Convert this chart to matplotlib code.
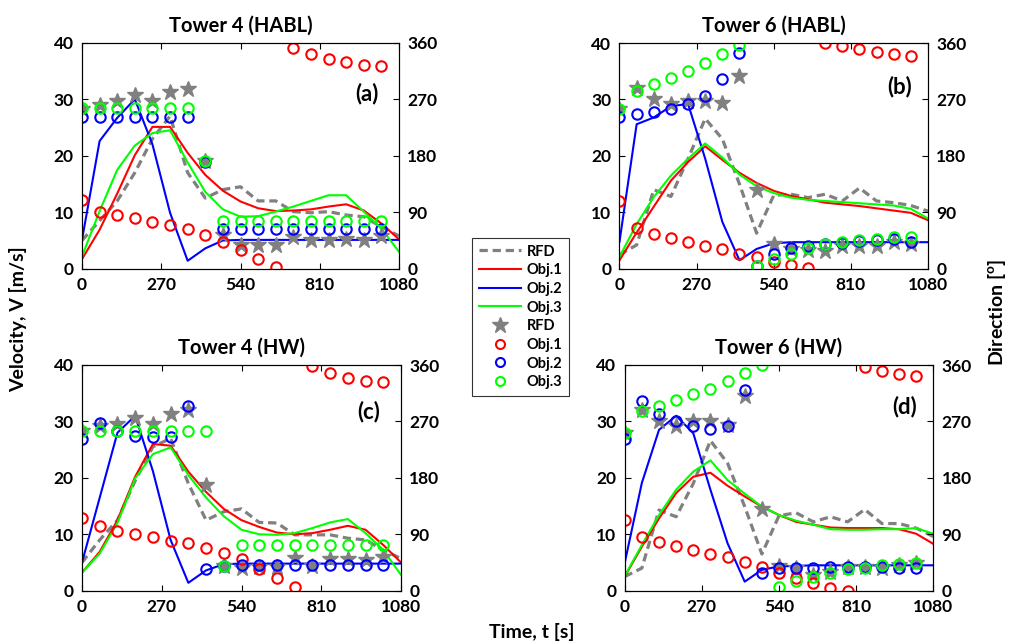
"""Velocity and direction time histories for Tower 4 / Tower 6 (HABL and HW)."""

import matplotlib

matplotlib.use("Agg")
import matplotlib.pyplot as plt
from matplotlib.lines import Line2D

plt.rcParams["font.family"] = ["Lato", "DejaVu Sans"]
plt.rcParams["font.weight"] = "bold"
plt.rcParams["mathtext.fontset"] = "custom"
plt.rcParams["mathtext.rm"] = "Lato:bold"
plt.rcParams["mathtext.bf"] = "Lato:bold"

# time grids (s)
T_LINE = [0, 60, 120, 180, 240, 300, 360, 420, 480, 540, 600, 660, 720, 780, 840, 900, 960, 1020, 1080]
T_MARK = [0, 60, 120, 180, 240, 300, 360, 420, 480, 540, 600, 660, 720, 780, 840, 900, 960, 1020]

# ---- Tower 4 (HABL): velocity (m/s) ----
rfd_a = [5.0, 8.5, 12.0, 17.0, 23.0, 27.0, 17.0, 12.5, 14.0, 14.5, 12.0, 12.0, 10.1, 9.9, 10.1, 9.5, 9.2, 7.4, 5.8]
obj1_a = [1.7, 6.9, 13.3, 20.1, 25.1, 25.1, 20.5, 16.6, 13.8, 11.9, 10.7, 10.2, 10.3, 10.5, 11.0, 11.4, 10.3, 8.0, 5.2]
obj2_a = [5.1, 22.6, 26.7, 30.0, 22.0, 9.9, 1.4, 3.6, 5.0, 5.1, 5.1, 5.1, 5.1, 5.1, 5.1, 5.1, 5.1, 5.1, 5.1]
obj3_a = [2.2, 10.2, 17.5, 21.8, 24.0, 24.5, 18.8, 13.6, 10.5, 9.2, 9.3, 10.1, 11.0, 12.0, 13.0, 13.0, 10.1, 7.1, 3.0]
# direction (deg)
rfd_dir_a = [255, 261, 267, 276, 267, 282, 287, 171, 54, 38, 38, 38, 51, 45, 45, 47, 45, 52]
obj1_dir_a = [109, 91, 85, 80, 75, 70, 63, 54, 43, 30, 15, 2, 352, 342, 334, 329, 325, 323]
obj2_dir_a = [242, 242, 242, 242, 242, 242, 242, 170, 64, 64, 64, 64, 64, 64, 64, 64, 64, 64]
obj3_dir_a = [256, 256, 256, 256, 256, 256, 256, 171, 76, 76, 76, 76, 76, 76, 76, 76, 76, 76]

# ---- Tower 6 (HABL) ----
rfd_b = [2.5, 4.2, 14.0, 12.8, 19.5, 26.6, 23.0, 15.0, 6.3, 13.0, 13.2, 12.6, 13.2, 12.0, 14.3, 12.0, 11.7, 11.2, 10.2]
obj1_b = [1.5, 6.4, 11.0, 15.6, 18.9, 21.7, 19.3, 17.0, 15.2, 13.8, 12.9, 12.3, 11.7, 11.4, 11.1, 10.7, 10.3, 9.9, 8.6]
obj2_b = [4.8, 25.6, 26.8, 28.8, 29.2, 19.5, 8.3, 1.5, 3.5, 4.5, 4.7, 4.7, 4.7, 4.7, 4.7, 4.7, 4.7, 4.7, 4.7]
obj3_b = [2.1, 7.9, 12.7, 16.5, 19.5, 22.2, 19.7, 16.7, 14.6, 13.4, 12.6, 12.2, 12.0, 11.8, 11.6, 11.4, 11.2, 10.6, 8.9]
rfd_dir_b = [255, 289, 270, 263, 268, 268, 265, 307, 126, 39, 31, 30, 28, 36, 36, 36, 42, 39]
obj1_dir_b = [108, 65, 56, 49, 43, 36, 31, 23, 18, 11, 6, 1, 360, 356, 351, 346, 343, 340]
obj2_dir_b = [242, 246, 250, 255, 262, 276, 303, 344, 5, 24, 33, 36, 39, 41, 44, 46, 48, 42]
obj3_dir_b = [255, 284, 295, 304, 316, 328, 343, 357, 5, 15, 24, 33, 39, 42, 45, 48, 51, 51]

# ---- Tower 4 (HW) ----
rfd_c = [5.0, 9.0, 12.5, 19.5, 25.5, 27.0, 19.0, 12.5, 14.0, 14.5, 12.1, 12.0, 9.9, 9.9, 9.9, 9.3, 9.0, 7.2, 5.7]
obj1_c = [3.2, 6.9, 12.5, 20.2, 26.0, 25.7, 21.1, 17.5, 14.5, 12.5, 11.3, 10.3, 10.0, 10.2, 10.8, 11.5, 10.8, 8.1, 5.0]
obj2_c = [5.0, 16.5, 28.0, 31.0, 21.2, 9.0, 1.4, 3.6, 4.7, 4.8, 4.8, 4.8, 4.8, 4.8, 4.8, 4.8, 4.8, 4.8, 4.8]
obj3_c = [3.2, 6.6, 12.0, 19.9, 24.2, 25.4, 20.5, 16.5, 13.2, 10.8, 10.0, 9.9, 10.2, 11.1, 12.1, 12.7, 10.2, 7.2, 2.8]
rfd_dir_c = [254, 262, 266, 275, 266, 282, 288, 169, 39, 36, 38, 38, 52, 39, 50, 50, 49, 54]
obj1_dir_c = [116, 103, 95, 90, 85, 80, 76, 68, 60, 50, 34, 21, 6, 358, 347, 339, 335, 333]
obj2_dir_c = [242, 268, 254, 247, 245, 245, 295, 35, 39, 41, 41, 41, 41, 41, 41, 41, 41, 41]
obj3_dir_c = [254, 254, 254, 254, 254, 254, 254, 254, 39, 73, 73, 73, 73, 73, 73, 73, 73, 73]

# ---- Tower 6 (HW) ----
rfd_d = [2.5, 4.0, 14.3, 13.1, 19.0, 26.6, 22.6, 14.9, 6.5, 13.3, 13.8, 12.2, 13.1, 12.2, 14.4, 11.9, 11.9, 11.1, 9.6]
obj1_d = [2.5, 7.8, 12.8, 17.3, 20.2, 20.9, 18.6, 16.7, 14.9, 13.4, 12.2, 11.7, 11.2, 11.1, 11.1, 11.1, 10.9, 10.1, 8.3]
obj2_d = [4.9, 19.1, 28.5, 31.0, 27.9, 17.9, 8.4, 1.6, 3.7, 4.3, 4.4, 4.5, 4.5, 4.5, 4.5, 4.5, 4.5, 4.5, 4.5]
obj3_d = [2.6, 8.1, 13.4, 17.9, 21.1, 23.1, 19.6, 17.2, 14.9, 13.4, 12.4, 11.7, 10.9, 10.8, 10.8, 10.9, 10.9, 11.1, 10.1]
rfd_dir_d = [252, 289, 271, 262, 270, 271, 265, 310, 130, 39, 36, 25, 30, 38, 38, 36, 41, 44]
obj1_dir_d = [113, 86, 78, 71, 65, 59, 53, 46, 38, 29, 21, 13, 5, 0, 357, 350, 346, 343]
obj2_dir_d = [242, 302, 282, 271, 262, 258, 262, 320, 29, 36, 37, 37, 38, 38, 38, 38, 37, 36]
obj3_dir_d = [252, 286, 294, 304, 313, 322, 335, 348, 360, 6, 15, 22, 29, 34, 37, 41, 43, 44]

TITLES = ["Tower 4 (HABL)", "Tower 6 (HABL)", "Tower 4 (HW)", "Tower 6 (HW)"]
LETTERS = ["(a)", "(b)", "(c)", "(d)"]

RED, BLUE, GREEN, GRAY = "#FF0000", "#0000FF", "#00FF00", "#808080"
W, H = 1012, 644


def px_box(left, right, top, bottom):
    return [left / W, 1 - bottom / H, (right - left) / W, (bottom - top) / H]


AX_BOXES = [
    px_box(82, 399, 42.7, 268.7),
    px_box(619.5, 928, 43, 268.7),
    px_box(82, 401, 365, 590.7),
    px_box(624.7, 933.3, 365, 590.7),
]
LETTER_POS = [(0.90, 0.775), (0.909, 0.807), (0.898, 0.794), (0.908, 0.816)]

panels = [
    (rfd_a, obj1_a, obj2_a, obj3_a, rfd_dir_a, obj1_dir_a, obj2_dir_a, obj3_dir_a),
    (rfd_b, obj1_b, obj2_b, obj3_b, rfd_dir_b, obj1_dir_b, obj2_dir_b, obj3_dir_b),
    (rfd_c, obj1_c, obj2_c, obj3_c, rfd_dir_c, obj1_dir_c, obj2_dir_c, obj3_dir_c),
    (rfd_d, obj1_d, obj2_d, obj3_d, rfd_dir_d, obj1_dir_d, obj2_dir_d, obj3_dir_d),
]

fig = plt.figure(figsize=(W / 100, H / 100), dpi=100)

for box, title, letter, lpos, data in zip(AX_BOXES, TITLES, LETTERS, LETTER_POS, panels):
    rfd, o1, o2, o3, rfd_dir, o1_dir, o2_dir, o3_dir = data
    ax = fig.add_axes(box)
    ax.plot(T_LINE, rfd, color=GRAY, linewidth=2.3, dashes=(2.6, 1.5))
    ax.plot(T_LINE, o1, color=RED, linewidth=1.5)
    ax.plot(T_LINE, o2, color=BLUE, linewidth=1.5)
    ax.plot(T_LINE, o3, color=GREEN, linewidth=1.5)
    ax.set_xlim(0, 1080)
    ax.set_ylim(0, 40)
    ax.set_xticks([0, 270, 540, 810, 1080])
    ax.set_yticks([0, 10, 20, 30, 40])
    ax.tick_params(direction="in", length=4, width=0.8, labelsize=12.5, top=True, pad=6)
    ax.set_title(title, fontsize=14.5, fontweight="bold", pad=8)

    ax2 = ax.twinx()
    ax2.plot(T_MARK, rfd_dir, linestyle="none", marker="*", markersize=12,
             color=GRAY, markeredgecolor=GRAY)
    for vals, col in ((o1_dir, RED), (o2_dir, BLUE), (o3_dir, GREEN)):
        ax2.plot(T_MARK, vals, linestyle="none", marker="o", markersize=7.5,
                 markerfacecolor="none", markeredgecolor=col, markeredgewidth=1.5)
    ax2.set_ylim(0, 360)
    ax2.set_yticks([0, 90, 180, 270, 360])
    ax2.tick_params(direction="in", length=4, width=0.8, labelsize=12.5, pad=6)
    for a in (ax, ax2):
        for sp in a.spines.values():
            sp.set_linewidth(0.8)
        for lab in a.get_xticklabels() + a.get_yticklabels():
            lab.set_fontweight("bold")
    ax2.text(lpos[0], lpos[1], letter, transform=ax2.transAxes, fontsize=16,
             fontweight="bold", ha="center", va="center")

fig.text(0.018, 0.505, "Velocity, V [m/s]", rotation=90, fontsize=14,
         fontweight="bold", ha="center", va="center")
fig.text(0.985, 0.515, r"Direction [$^{\mathbf{o}}$]", rotation=90, fontsize=14,
         fontweight="bold", ha="center", va="center")
fig.text(0.525, 0.018, "Time, t [s]", fontsize=14, fontweight="bold",
         ha="center", va="center")

handles = [
    Line2D([], [], color=GRAY, linewidth=2.3, dashes=(2.6, 1.5)),
    Line2D([], [], color=RED, linewidth=1.5),
    Line2D([], [], color=BLUE, linewidth=1.5),
    Line2D([], [], color=GREEN, linewidth=1.5),
    Line2D([], [], linestyle="none", marker="*", markersize=12, color=GRAY),
    Line2D([], [], linestyle="none", marker="o", markersize=6.5, markerfacecolor="none",
           markeredgecolor=RED, markeredgewidth=1.5),
    Line2D([], [], linestyle="none", marker="o", markersize=6.5, markerfacecolor="none",
           markeredgecolor=BLUE, markeredgewidth=1.5),
    Line2D([], [], linestyle="none", marker="o", markersize=6.5, markerfacecolor="none",
           markeredgecolor=GREEN, markeredgewidth=1.5),
]
labels = ["RFD", "Obj.1", "Obj.2", "Obj.3", "RFD", "Obj.1", "Obj.2", "Obj.3"]
leg = fig.legend(handles, labels, loc="upper left", bbox_to_anchor=(472 / W, 1 - 238 / H),
                 frameon=True, fancybox=False, edgecolor="#333333", framealpha=1,
                 prop={"weight": "bold", "size": 10.5}, handlelength=2.9,
                 handletextpad=0.4, labelspacing=0.32, borderpad=0.45, borderaxespad=0)
leg.get_frame().set_linewidth(0.8)

fig.savefig("out.png", dpi=100)
